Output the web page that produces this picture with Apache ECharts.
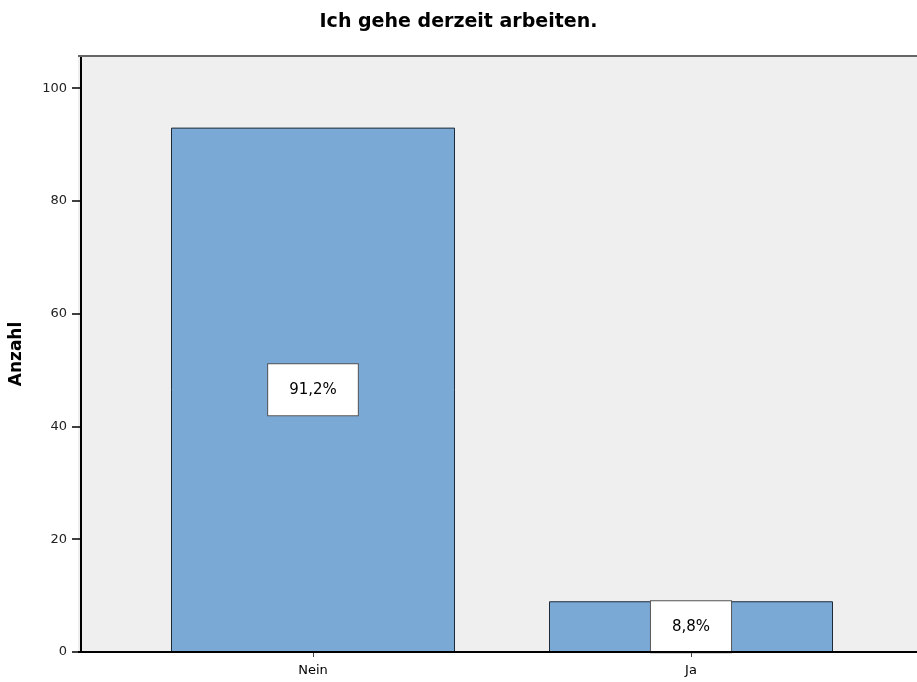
<!DOCTYPE html>
<html>
<head>
<meta charset="utf-8">
<script src="https://cdn.jsdelivr.net/npm/echarts@6/dist/echarts.min.js"></script>
<style>
  html, body { margin: 0; padding: 0; background: #fff; }
  #chart { width: 917px; height: 682px; }
</style>
</head>
<body>
<div id="chart"></div>
<script>
var categories = ['Nein', 'Ja'];
var counts = [93, 9];
var yTicks = [0, 20, 40, 60, 80, 100];

var total = counts.reduce(function (a, b) { return a + b; }, 0);

var myChart = echarts.init(document.getElementById('chart'));

var option = {
    backgroundColor: '#ffffff',
    animation: false,
    textStyle: { fontFamily: 'DejaVu Sans, Verdana, sans-serif' },
    title: {
        text: 'Ich gehe derzeit arbeiten.',
        left: 'center',
        top: 8,
        textStyle: { fontSize: 19, fontWeight: 'bold', color: '#000' }
    },
    grid: { left: 120, right: 37, top: 56, bottom: 30 },
    graphic: [
        {
            type: 'rect', z: -10, silent: true,
            shape: { x: 78, y: 56, width: 839, height: 596 },
            style: { fill: '#efefef' }
        },
        {
            type: 'line', z: 100, silent: true,
            shape: { x1: 78, y1: 56, x2: 917, y2: 56 },
            style: { stroke: '#666', lineWidth: 2 }
        },
        {
            type: 'line', z: 100, silent: true,
            shape: { x1: 78, y1: 652, x2: 917, y2: 652 },
            style: { stroke: '#000', lineWidth: 2 }
        }
    ],
    xAxis: {
        type: 'category',
        data: categories,
        axisLine: { show: false },
        axisTick: { show: true, alignWithLabel: true, length: 5, lineStyle: { color: '#444' } },
        axisLabel: { color: '#000', fontSize: 13, margin: 12 }
    },
    yAxis: {
        type: 'value',
        min: 0,
        max: 105.7,
        interval: 20,
        offset: 43,
        name: 'Anzahl',
        nameLocation: 'middle',
        nameGap: 56,
        nameRotate: 90,
        nameTextStyle: { fontSize: 17, fontWeight: 'bold', color: '#000' },
        splitLine: { show: false },
        axisLine: { show: true, lineStyle: { color: '#000', width: 2 } },
        axisTick: { show: true, length: 9, customValues: yTicks, lineStyle: { color: '#000', width: 1.5 } },
        axisLabel: { color: '#222', fontSize: 13, margin: 14, customValues: yTicks }
    },
    series: [{
        type: 'bar',
        data: counts,
        barWidth: 284,
        itemStyle: { color: '#7ba9d6', borderColor: '#1e2a38', borderWidth: 1 },
        label: {
            show: true,
            position: 'inside',
            formatter: function (p) {
                return (p.value / total * 100).toFixed(1).replace('.', ',') + '%';
            },
            color: '#000',
            fontSize: 15,
            backgroundColor: '#fff',
            borderColor: '#555',
            borderWidth: 1,
            padding: [18, 21]
        }
    }]
};
myChart.setOption(option);
</script>
</body>
</html>
